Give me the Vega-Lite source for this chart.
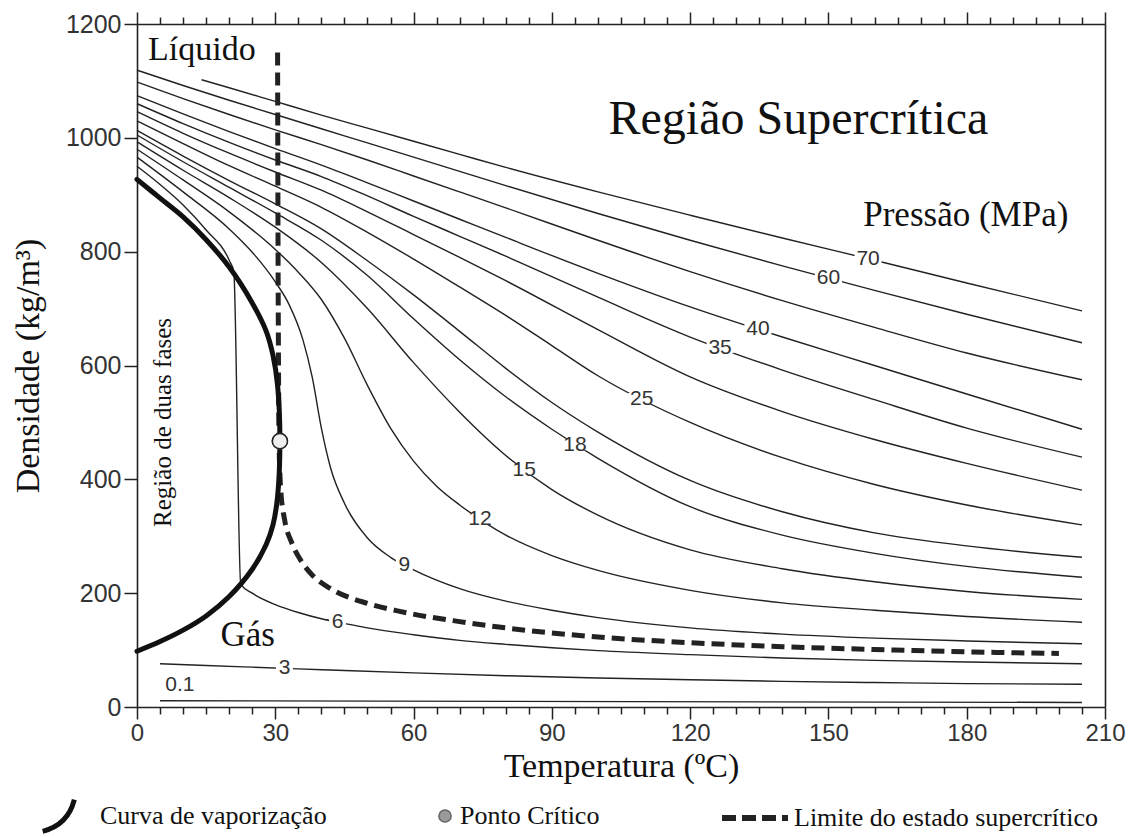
{
  "$schema": "https://vega.github.io/schema/vega-lite/v6.json",
  "width": 968,
  "height": 683,
  "autosize": {"type": "none"},
  "padding": {"left": 137, "top": 24, "right": 33, "bottom": 130},
  "background": "white",
  "config": {
    "view": {"stroke": null},
    "legend": {"title": null, "labelFont": "Liberation Serif", "labelFontSize": 26, "labelColor": "#111", "padding": 0, "orient": "none", "labelLimit": 600}
  },
  "datasets": {
    "isobars": [
      {"p":"70","T":14,"rho":1102},{"p":"70","T":20,"rho":1088},{"p":"70","T":30,"rho":1064},{"p":"70","T":40,"rho":1040},{"p":"70","T":50,"rho":1017},{"p":"70","T":60,"rho":994},{"p":"70","T":70,"rho":971},{"p":"70","T":80,"rho":948},{"p":"70","T":100,"rho":905},{"p":"70","T":120,"rho":864},{"p":"70","T":140,"rho":824},{"p":"70","T":160,"rho":785},{"p":"70","T":180,"rho":745},{"p":"70","T":205,"rho":696},
      {"p":"60","T":0,"rho":1119},{"p":"60","T":10,"rho":1092},{"p":"60","T":20,"rho":1066},{"p":"60","T":30,"rho":1041},{"p":"60","T":40,"rho":1016},{"p":"60","T":50,"rho":991},{"p":"60","T":60,"rho":966},{"p":"60","T":70,"rho":941},{"p":"60","T":80,"rho":916},{"p":"60","T":100,"rho":867},{"p":"60","T":120,"rho":820},{"p":"60","T":140,"rho":775},{"p":"60","T":160,"rho":732},{"p":"60","T":180,"rho":690},{"p":"60","T":205,"rho":640},
      {"p":"50","T":0,"rho":1098},{"p":"50","T":10,"rho":1069},{"p":"50","T":20,"rho":1041},{"p":"50","T":30,"rho":1014},{"p":"50","T":40,"rho":988},{"p":"50","T":50,"rho":961},{"p":"50","T":60,"rho":933},{"p":"50","T":70,"rho":905},{"p":"50","T":80,"rho":877},{"p":"50","T":100,"rho":820},{"p":"50","T":120,"rho":765},{"p":"50","T":140,"rho":714},{"p":"50","T":160,"rho":667},{"p":"50","T":180,"rho":622},{"p":"50","T":205,"rho":575},
      {"p":"40","T":0,"rho":1074},{"p":"40","T":10,"rho":1042},{"p":"40","T":20,"rho":1011},{"p":"40","T":30,"rho":981},{"p":"40","T":40,"rho":952},{"p":"40","T":50,"rho":921},{"p":"40","T":60,"rho":889},{"p":"40","T":70,"rho":857},{"p":"40","T":80,"rho":825},{"p":"40","T":100,"rho":762},{"p":"40","T":120,"rho":703},{"p":"40","T":140,"rho":650},{"p":"40","T":160,"rho":600},{"p":"40","T":180,"rho":550},{"p":"40","T":205,"rho":488},
      {"p":"35","T":0,"rho":1060},{"p":"35","T":10,"rho":1025},{"p":"35","T":20,"rho":992},{"p":"35","T":30,"rho":961},{"p":"35","T":40,"rho":932},{"p":"35","T":50,"rho":898},{"p":"35","T":60,"rho":862},{"p":"35","T":70,"rho":827},{"p":"35","T":80,"rho":792},{"p":"35","T":100,"rho":720},{"p":"35","T":120,"rho":650},{"p":"35","T":140,"rho":592},{"p":"35","T":160,"rho":540},{"p":"35","T":180,"rho":490},{"p":"35","T":205,"rho":439},
      {"p":"30","T":0,"rho":1046},{"p":"30","T":10,"rho":1008},{"p":"30","T":20,"rho":973},{"p":"30","T":30,"rho":940},{"p":"30","T":40,"rho":908},{"p":"30","T":50,"rho":870},{"p":"30","T":60,"rho":830},{"p":"30","T":70,"rho":790},{"p":"30","T":80,"rho":749},{"p":"30","T":100,"rho":663},{"p":"30","T":120,"rho":580},{"p":"30","T":140,"rho":519},{"p":"30","T":160,"rho":470},{"p":"30","T":180,"rho":428},{"p":"30","T":205,"rho":381},
      {"p":"25","T":0,"rho":1030},{"p":"25","T":10,"rho":990},{"p":"25","T":20,"rho":951},{"p":"25","T":30,"rho":915},{"p":"25","T":40,"rho":878},{"p":"25","T":50,"rho":834},{"p":"25","T":60,"rho":787},{"p":"25","T":70,"rho":738},{"p":"25","T":80,"rho":688},{"p":"25","T":90,"rho":635},{"p":"25","T":100,"rho":582},{"p":"25","T":120,"rho":500},{"p":"25","T":140,"rho":438},{"p":"25","T":160,"rho":391},{"p":"25","T":180,"rho":355},{"p":"25","T":205,"rho":320},
      {"p":"20","T":0,"rho":1013},{"p":"20","T":10,"rho":968},{"p":"20","T":20,"rho":925},{"p":"20","T":30,"rho":884},{"p":"20","T":40,"rho":840},{"p":"20","T":50,"rho":784},{"p":"20","T":60,"rho":724},{"p":"20","T":70,"rho":660},{"p":"20","T":80,"rho":595},{"p":"20","T":90,"rho":535},{"p":"20","T":100,"rho":483},{"p":"20","T":120,"rho":398},{"p":"20","T":140,"rho":343},{"p":"20","T":160,"rho":306},{"p":"20","T":180,"rho":283},{"p":"20","T":205,"rho":263},
      {"p":"18","T":0,"rho":1005},{"p":"18","T":10,"rho":958},{"p":"18","T":20,"rho":913},{"p":"18","T":30,"rho":868},{"p":"18","T":40,"rho":820},{"p":"18","T":50,"rho":758},{"p":"18","T":60,"rho":682},{"p":"18","T":70,"rho":610},{"p":"18","T":80,"rho":545},{"p":"18","T":90,"rho":488},{"p":"18","T":100,"rho":437},{"p":"18","T":120,"rho":352},{"p":"18","T":140,"rho":302},{"p":"18","T":160,"rho":270},{"p":"18","T":180,"rho":247},{"p":"18","T":205,"rho":228},
      {"p":"15","T":0,"rho":993},{"p":"15","T":10,"rho":943},{"p":"15","T":20,"rho":895},{"p":"15","T":30,"rho":843},{"p":"15","T":40,"rho":781},{"p":"15","T":50,"rho":700},{"p":"15","T":60,"rho":605},{"p":"15","T":70,"rho":518},{"p":"15","T":80,"rho":442},{"p":"15","T":90,"rho":382},{"p":"15","T":100,"rho":337},{"p":"15","T":120,"rho":276},{"p":"15","T":140,"rho":243},{"p":"15","T":160,"rho":220},{"p":"15","T":180,"rho":203},{"p":"15","T":205,"rho":189},
      {"p":"12","T":0,"rho":980},{"p":"12","T":10,"rho":926},{"p":"12","T":20,"rho":870},{"p":"12","T":30,"rho":804},{"p":"12","T":35,"rho":764},{"p":"12","T":40,"rho":716},{"p":"12","T":45,"rho":648},{"p":"12","T":50,"rho":565},{"p":"12","T":55,"rho":490},{"p":"12","T":60,"rho":432},{"p":"12","T":65,"rho":388},{"p":"12","T":70,"rho":355},{"p":"12","T":80,"rho":302},{"p":"12","T":90,"rho":266},{"p":"12","T":100,"rho":240},{"p":"12","T":120,"rho":205},{"p":"12","T":140,"rho":183},{"p":"12","T":160,"rho":170},{"p":"12","T":180,"rho":159},{"p":"12","T":205,"rho":149},
      {"p":"9","T":0,"rho":966},{"p":"9","T":10,"rho":905},{"p":"9","T":20,"rho":840},{"p":"9","T":25,"rho":799},{"p":"9","T":30,"rho":747},{"p":"9","T":33,"rho":707},{"p":"9","T":36,"rho":645},{"p":"9","T":38,"rho":580},{"p":"9","T":40,"rho":490},{"p":"9","T":42,"rho":420},{"p":"9","T":45,"rho":358},{"p":"9","T":50,"rho":297},{"p":"9","T":55,"rho":263},{"p":"9","T":60,"rho":241},{"p":"9","T":70,"rho":208},{"p":"9","T":80,"rho":186},{"p":"9","T":90,"rho":170},{"p":"9","T":100,"rho":157},{"p":"9","T":120,"rho":139},{"p":"9","T":140,"rho":128},{"p":"9","T":160,"rho":121},{"p":"9","T":180,"rho":116},{"p":"9","T":205,"rho":111},
      {"p":"6","T":0,"rho":950},{"p":"6","T":5,"rho":918},{"p":"6","T":10,"rho":882},{"p":"6","T":15,"rho":838},{"p":"6","T":20,"rho":785},{"p":"6","T":21,"rho":765},{"p":"6","T":22.5,"rho":216},{"p":"6","T":25,"rho":200},{"p":"6","T":30,"rho":180},{"p":"6","T":35,"rho":166},{"p":"6","T":40,"rho":155},{"p":"6","T":45,"rho":147},{"p":"6","T":50,"rho":139},{"p":"6","T":60,"rho":127},{"p":"6","T":70,"rho":117},{"p":"6","T":80,"rho":110},{"p":"6","T":90,"rho":104},{"p":"6","T":100,"rho":99},{"p":"6","T":120,"rho":92},{"p":"6","T":140,"rho":86},{"p":"6","T":160,"rho":82},{"p":"6","T":180,"rho":79},{"p":"6","T":205,"rho":76},
      {"p":"3","T":5,"rho":76},{"p":"3","T":15,"rho":73},{"p":"3","T":25,"rho":70},{"p":"3","T":35,"rho":67},{"p":"3","T":45,"rho":64},{"p":"3","T":60,"rho":60},{"p":"3","T":80,"rho":55},{"p":"3","T":100,"rho":51},{"p":"3","T":120,"rho":48},{"p":"3","T":140,"rho":45},{"p":"3","T":160,"rho":43},{"p":"3","T":180,"rho":41},{"p":"3","T":205,"rho":40},
      {"p":"0.1","T":5,"rho":11},{"p":"0.1","T":205,"rho":8}
    ],
    "labels": [
      {"lab":"70","T":158.6,"rho":787},{"lab":"60","T":150,"rho":753},{"lab":"40","T":134.7,"rho":664},{"lab":"35","T":126.5,"rho":631},{"lab":"25","T":109.5,"rho":542},{"lab":"18","T":95,"rho":461},{"lab":"15","T":84,"rho":416},{"lab":"12","T":74.4,"rho":331},{"lab":"9","T":58,"rho":250},{"lab":"6","T":43.5,"rho":150},{"lab":"3","T":32,"rho":68},{"lab":"0.1","T":9.3,"rho":38}
    ],
    "limite": [
      {"T":30.5,"rho":1150},{"T":30.6,"rho":800},{"T":30.7,"rho":600},{"T":30.8,"rho":470},{"T":31.2,"rho":380},{"T":32,"rho":330},{"T":33.5,"rho":290},{"T":35.5,"rho":258},{"T":38,"rho":232},{"T":42,"rho":208},{"T":50,"rho":182},{"T":57,"rho":168},{"T":70,"rho":150},{"T":80,"rho":139},{"T":100,"rho":123},{"T":120,"rho":113},{"T":140,"rho":106},{"T":160,"rho":101},{"T":180,"rho":97},{"T":200,"rho":94}
    ],
    "vapor": [
      {"i":1,"T":0,"rho":98},{"i":2,"T":5,"rho":115},{"i":3,"T":10,"rho":135},{"i":4,"T":15,"rho":160},{"i":5,"T":20,"rho":194},{"i":6,"T":25,"rho":242},{"i":7,"T":28,"rho":285},{"i":8,"T":29.5,"rho":320},{"i":9,"T":30.5,"rho":370},{"i":10,"T":31,"rho":467},{"i":11,"T":30.5,"rho":565},{"i":12,"T":29.5,"rho":618},{"i":13,"T":28,"rho":661},{"i":14,"T":25,"rho":710},{"i":15,"T":20,"rho":773},{"i":16,"T":15,"rho":821},{"i":17,"T":10,"rho":861},{"i":18,"T":5,"rho":894},{"i":19,"T":0,"rho":927}
    ],
    "critico": [{"T":31,"rho":467}]
  },
  "resolve": {"scale": {"color": "independent"}, "axis": {"x": "independent", "y": "independent"}},
  "layer": [
    {
      "data": {"name": "isobars"},
      "mark": {"type": "line", "interpolate": "monotone", "stroke": "#222", "strokeWidth": 1.4},
      "encoding": {
        "x": {"field": "T", "type": "quantitative", "scale": {"domain": [0, 210], "nice": false},
          "axis": {"orient": "bottom", "values": [0,5,10,15,20,25,30,35,40,45,50,55,60,65,70,75,80,85,90,95,100,105,110,115,120,125,130,135,140,145,150,155,160,165,170,175,180,185,190,195,200,205,210],
            "format": "d",
            "labelExpr": "datum.value % 30 === 0 ? datum.label : ''",
            "tickSize": {"condition": {"test": "datum.value % 30 === 0", "value": 12}, "value": 7},
            "grid": false, "domainColor": "#222", "domainWidth": 1.6, "tickColor": "#222", "tickWidth": 1.5,
            "labelFont": "Liberation Sans", "labelFontSize": 24, "labelColor": "#333", "labelPadding": 2, "labelOverlap": false, "labelFlush": false,
            "title": "Temperatura (ºC)", "titleFont": "Liberation Serif", "titleFontSize": 34, "titleFontWeight": "normal", "titleColor": "#111", "titlePadding": 4}},
        "y": {"field": "rho", "type": "quantitative", "scale": {"domain": [0, 1200], "nice": false},
          "axis": {"orient": "left", "values": [0,200,400,600,800,1000,1200], "format": "d", "tickSize": 13, "grid": false,
            "domainColor": "#222", "domainWidth": 1.6, "tickColor": "#222", "tickWidth": 1.5,
            "labelFont": "Liberation Sans", "labelFontSize": 25, "labelColor": "#333", "labelPadding": 3, "labelOverlap": false, "labelFlush": false,
            "title": "Densidade (kg/m³)", "titleFont": "Liberation Serif", "titleFontSize": 34, "titleFontWeight": "normal", "titleColor": "#111", "titlePadding": 20}},
        "detail": {"field": "p", "type": "nominal"}
      }
    },
    {
      "data": {"name": "labels"},
      "transform": [{"filter": "length(datum.lab) == 2"}],
      "mark": {"type": "point", "shape": "M-1.35,-0.55H1.35V0.55H-1.35Z", "size": 400, "filled": true, "fill": "white", "stroke": null, "opacity": 1},
      "encoding": {
        "x": {"field": "T", "type": "quantitative", "axis": null},
        "y": {"field": "rho", "type": "quantitative", "axis": null}
      }
    },
    {
      "data": {"name": "labels"},
      "transform": [{"filter": "length(datum.lab) == 1"}],
      "mark": {"type": "point", "shape": "M-0.85,-0.55H0.85V0.55H-0.85Z", "size": 400, "filled": true, "fill": "white", "stroke": null, "opacity": 1},
      "encoding": {
        "x": {"field": "T", "type": "quantitative", "axis": null},
        "y": {"field": "rho", "type": "quantitative", "axis": null}
      }
    },
    {
      "data": {"name": "labels"},
      "mark": {"type": "text", "font": "Liberation Sans", "fontSize": 21, "fill": "#333", "align": "center", "baseline": "middle"},
      "encoding": {
        "x": {"field": "T", "type": "quantitative", "axis": null},
        "y": {"field": "rho", "type": "quantitative", "axis": null},
        "text": {"field": "lab", "type": "nominal"}
      }
    },
    {
      "data": {"name": "limite"},
      "mark": {"type": "line", "interpolate": "monotone", "strokeWidth": 5, "strokeDash": [13, 7]},
      "encoding": {
        "x": {"field": "T", "type": "quantitative",
          "axis": {"orient": "top", "values": [0,5,10,15,20,25,30,35,40,45,50,55,60,65,70,75,80,85,90,95,100,105,110,115,120,125,130,135,140,145,150,155,160,165,170,175,180,185,190,195,200,205,210],
            "labels": false, "title": null, "grid": false, "domainColor": "#222", "domainWidth": 1.6, "tickColor": "#222", "tickWidth": 1.5,
            "tickSize": {"condition": {"test": "datum.value % 30 === 0", "value": 12}, "value": 7}}},
        "y": {"field": "rho", "type": "quantitative",
          "axis": {"orient": "right", "labels": false, "ticks": false, "title": null, "grid": false, "domainColor": "#222", "domainWidth": 1.6}},
        "color": {"datum": "Limite do estado supercrítico", "type": "nominal", "scale": {"range": ["#222"]},
          "legend": {"legendX": 582, "legendY": 758, "symbolType": "stroke", "symbolDash": [14, 6], "symbolStrokeWidth": 6, "symbolSize": 4356, "labelOffset": 3}}
      }
    },
    {
      "data": {"name": "vapor"},
      "mark": {"type": "line", "interpolate": "catmull-rom", "strokeWidth": 5, "strokeCap": "round"},
      "encoding": {
        "x": {"field": "T", "type": "quantitative", "axis": null},
        "y": {"field": "rho", "type": "quantitative", "axis": null},
        "order": {"field": "i", "type": "quantitative"},
        "color": {"datum": "Curva de vaporização", "type": "nominal", "scale": {"range": ["#111"]},
          "legend": {"legendX": -97, "legendY": 773, "symbolType": "M-1,1Q0.6,0.6,1,-1", "symbolSize": 1000, "symbolStrokeWidth": 5, "labelOffset": 23}}
      }
    },
    {
      "data": {"name": "critico"},
      "mark": {"type": "point", "filled": true, "size": 230, "stroke": "#666", "strokeWidth": 1.5, "opacity": 1},
      "encoding": {
        "x": {"field": "T", "type": "quantitative", "axis": null},
        "y": {"field": "rho", "type": "quantitative", "axis": null},
        "color": {"datum": "Ponto Crítico", "type": "nominal", "scale": {"range": ["#9a9a9a"]},
          "legend": {"legendX": 295, "legendY": 779, "symbolType": "circle", "symbolSize": 150, "labelOffset": 2}}
      }
    },
    {
      "data": {"name": "critico"},
      "mark": {"type": "point", "filled": true, "size": 230, "fill": "#eeeeee", "stroke": "#222", "strokeWidth": 1.5, "opacity": 1},
      "encoding": {
        "x": {"field": "T", "type": "quantitative", "axis": null},
        "y": {"field": "rho", "type": "quantitative", "axis": null}
      }
    },
    {
      "data": {"values": [{"T": 2.4, "rho": 1155, "txt": "Líquido"}]},
      "mark": {"type": "text", "font": "Liberation Serif", "fontSize": 34, "fill": "#111", "align": "left", "baseline": "middle"},
      "encoding": {"x": {"field": "T", "type": "quantitative", "axis": null}, "y": {"field": "rho", "type": "quantitative", "axis": null}, "text": {"field": "txt"}}
    },
    {
      "data": {"values": [{"T": 143.5, "rho": 1032, "txt": "Região Supercrítica"}]},
      "mark": {"type": "text", "font": "Liberation Serif", "fontSize": 48, "fill": "#111", "align": "center", "baseline": "middle"},
      "encoding": {"x": {"field": "T", "type": "quantitative", "axis": null}, "y": {"field": "rho", "type": "quantitative", "axis": null}, "text": {"field": "txt"}}
    },
    {
      "data": {"values": [{"T": 179.8, "rho": 865, "txt": "Pressão (MPa)"}, {"T": 24, "rho": 127, "txt": "Gás"}]},
      "mark": {"type": "text", "font": "Liberation Serif", "fontSize": 35, "fill": "#111", "align": "center", "baseline": "middle"},
      "encoding": {"x": {"field": "T", "type": "quantitative", "axis": null}, "y": {"field": "rho", "type": "quantitative", "axis": null}, "text": {"field": "txt"}}
    },
    {
      "data": {"values": [{"T": 5.6, "rho": 500, "txt": "Região de duas fases"}]},
      "mark": {"type": "text", "font": "Liberation Serif", "fontSize": 25, "fill": "#111", "align": "center", "baseline": "middle", "angle": 270},
      "encoding": {"x": {"field": "T", "type": "quantitative", "axis": null}, "y": {"field": "rho", "type": "quantitative", "axis": null}, "text": {"field": "txt"}}
    }
  ]
}
